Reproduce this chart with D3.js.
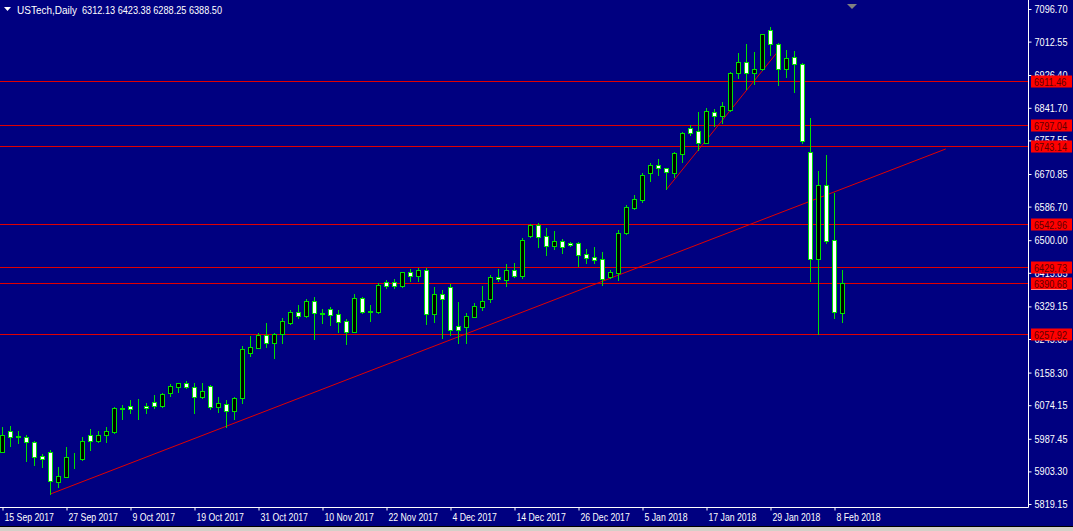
<!DOCTYPE html>
<html><head><meta charset="utf-8">
<script src="https://cdn.jsdelivr.net/npm/d3@7"></script>
<style>
html,body{margin:0;padding:0;background:#000080;overflow:hidden}
svg text{font-family:"Liberation Sans",Arial,sans-serif;}
</style></head>
<body><svg id="c" width="1073" height="531"></svg>
<script>
const dates = ["2017-09-15","2017-09-18","2017-09-19","2017-09-20","2017-09-21","2017-09-22","2017-09-25","2017-09-26","2017-09-27","2017-09-28","2017-09-29",
"2017-10-02","2017-10-03","2017-10-04","2017-10-05","2017-10-06","2017-10-09","2017-10-10","2017-10-11","2017-10-12","2017-10-13","2017-10-16","2017-10-17","2017-10-18","2017-10-19","2017-10-20","2017-10-23","2017-10-24","2017-10-25","2017-10-26","2017-10-27","2017-10-30","2017-10-31",
"2017-11-01","2017-11-02","2017-11-03","2017-11-06","2017-11-07","2017-11-08","2017-11-09","2017-11-10","2017-11-13","2017-11-14","2017-11-15","2017-11-16","2017-11-17","2017-11-20","2017-11-21","2017-11-22","2017-11-23","2017-11-24","2017-11-27","2017-11-28","2017-11-29","2017-11-30",
"2017-12-01","2017-12-04","2017-12-05","2017-12-06","2017-12-07","2017-12-08","2017-12-11","2017-12-12","2017-12-13","2017-12-14","2017-12-15","2017-12-18","2017-12-19","2017-12-20","2017-12-21","2017-12-22","2017-12-25","2017-12-26","2017-12-27","2017-12-28","2017-12-29",
"2018-01-01","2018-01-02","2018-01-03","2018-01-04","2018-01-05","2018-01-08","2018-01-09","2018-01-10","2018-01-11","2018-01-12","2018-01-15","2018-01-16","2018-01-17","2018-01-18","2018-01-19","2018-01-22","2018-01-23","2018-01-24","2018-01-25","2018-01-26","2018-01-29","2018-01-30","2018-01-31",
"2018-02-01","2018-02-02","2018-02-05","2018-02-06","2018-02-07","2018-02-08","2018-02-09"];

const open  = [5954.1,6007.6,5994.7,5992.9,5978.4,5942.3,5953.4,5876.7,5889.6,5939.2,5935.3,5996.5,5981.8,5996.5,6005.8,6066.2,6072.1,6068.2,6072.1,6081.6,6072.9,6106.4,6121.9,6130.7,6120.4,6094.5,6123.7,6070.3,6076.5,6060.0,6092.0,6209.6,6222.6,6255.3,6233.9,6257.9,6285.5,6314.7,6305.1,6343.1,6312.1,6321.7,6309.5,6290.7,6263.9,6350.1,6316.0,6315.5,6391.3,6391.3,6382.6,6417.2,6408.4,6423.1,6308.8,6360.4,6380.0,6278.6,6276.0,6302.6,6328.4,6347.5,6405.8,6397.3,6423.1,6407.6,6510.8,6539.2,6510.8,6485.0,6497.9,6493.6,6493.6,6464.4,6455.9,6450.7,6405.8,6414.6,6517.8,6583.9,6603.8,6674.2,6694.1,6685.6,6674.2,6721.7,6788.8,6782.6,6751.6,6830.1,6820.5,6836.0,6930.8,6959.1,6930.8,6941.1,7042.5,7005.6,6941.1,6972.0,6954.0,6726.9,6450.7,6642.5,6500.5,6312.13];
const high  = [6018.7,6020.5,6007.6,5996.0,5981.8,5948.2,5958.5,5913.9,5967.0,5951.6,5991.3,6012.0,6008.3,6018.7,6070.3,6074.7,6087.6,6089.4,6079.1,6100.5,6106.4,6128.9,6132.2,6136.6,6131.4,6130.7,6126.3,6094.5,6087.6,6094.5,6226.9,6252.8,6259.7,6287.1,6260.5,6298.4,6319.9,6332.8,6347.5,6352.6,6321.7,6326.8,6319.9,6296.6,6360.4,6354.2,6332.8,6388.8,6397.3,6399.9,6418.7,6425.7,6429.0,6429.0,6380.0,6371.5,6386.2,6341.3,6312.1,6338.7,6381.8,6410.2,6424.9,6438.6,6440.4,6504.9,6541.8,6545.2,6530.7,6524.5,6502.3,6495.3,6495.3,6476.5,6481.7,6470.3,6423.1,6526.3,6590.9,6616.7,6672.7,6698.5,6708.8,6686.4,6728.4,6780.0,6797.3,6830.9,6840.4,6837.8,6857.5,6934.9,6983.9,7006.4,6986.5,7032.2,7049.5,7008.2,6990.9,6988.3,6956.6,6814.6,6678.6,6719.9,6621.0,6423.38];
const low   = [5952.1,5969.6,5977.4,5930.9,5919.8,5913.9,5845.0,5863.8,5887.6,5912.8,5932.7,5958.5,5979.2,5979.2,6003.2,6037.8,6053.2,6038.5,6054.8,6067.7,6070.3,6098.7,6107.4,6117.8,6054.0,6092.0,6063.6,6057.4,6018.7,6037.8,6080.6,6201.1,6221.0,6225.1,6195.2,6235.4,6283.7,6298.4,6302.6,6245.8,6285.5,6281.1,6263.9,6232.1,6262.3,6311.3,6292.2,6312.9,6375.9,6375.9,6380.0,6394.7,6394.7,6283.7,6289.7,6246.8,6255.3,6233.9,6234.7,6301.0,6319.9,6341.3,6394.7,6381.8,6405.8,6401.7,6509.0,6481.7,6461.8,6476.5,6467.7,6485.9,6433.4,6440.4,6440.4,6384.4,6401.7,6397.3,6516.0,6580.5,6599.4,6653.6,6668.3,6631.4,6663.9,6702.6,6771.5,6732.8,6750.1,6794.7,6801.7,6834.2,6917.9,6889.5,6902.4,6939.3,6978.0,6900.6,6922.0,6883.3,6751.6,6394.7,6257.9,6492.0,6298.4,6288.25];
const close = [5997.2,5991.3,5992.1,5978.4,5941.2,5936.1,5878.5,5892.2,5940.5,5940.5,5981.8,5982.5,5997.2,6007.6,6066.2,6065.4,6064.3,6067.2,6066.9,6072.9,6103.1,6123.7,6130.7,6120.4,6096.1,6111.6,6070.3,6079.1,6060.0,6092.0,6218.4,6223.6,6255.3,6233.9,6257.9,6290.7,6314.7,6305.1,6343.1,6311.3,6310.8,6306.9,6289.7,6263.9,6350.1,6313.9,6314.9,6384.4,6382.6,6382.6,6417.2,6408.4,6423.1,6308.8,6360.4,6347.5,6268.2,6268.2,6303.6,6330.2,6343.9,6405.8,6399.1,6423.1,6407.6,6500.5,6539.2,6509.0,6485.0,6497.9,6483.2,6487.6,6461.8,6454.8,6448.9,6399.1,6417.9,6517.8,6584.9,6605.6,6668.3,6694.1,6685.6,6675.2,6724.3,6775.9,6777.4,6751.6,6834.2,6821.3,6846.4,6932.3,6959.1,6930.8,6941.1,7031.4,7005.6,6941.1,6969.5,6954.0,6756.8,6450.7,6642.5,6498.7,6313.9,6388.50];

const priceTicks = ["7096.70","7012.55","6926.40","6841.70","6757.55","6670.85","6586.70","6500.00","6415.85","6329.15","6245.00","6158.30","6074.15","5987.45","5903.30","5819.15"];
const dateTickIdx = [0,8,16,24,32,40,48,56,64,72,80,88,96,104];
const levels = [6911.46,6797.04,6743.14,6542.96,6429.73,6390.68,6257.92];
const trendA_idx = [6,117.9], trendA_px = [5845.0,6735.4];
const trendB_idx = [83,97], trendB_px = [6631.4,6989.0];
const symbol = "USTech,Daily";

const W=1073,H=531, plotR=1028, plotB=507;
const svg=d3.select("#c");
svg.append("rect").attr("width",W).attr("height",H).attr("fill","#000080");

const x=d3.scaleLinear().domain([0,1]).range([2,10]);
const y=d3.scaleLinear().domain([5819.15,7096.70]).range([504,9]);
const parse=d3.timeParse("%Y-%m-%d"), fmt=d3.timeFormat("%-d %b %Y");

function squeeze(sel,k){sel.each(function(){const w=this.getComputedTextLength();this.setAttribute("textLength",(w*k).toFixed(1));this.setAttribute("lengthAdjust","spacingAndGlyphs");});}

const plot=svg.append("g");
const RED="#e00000", GREEN="#00e000";
const last=open.length-1;

// bid line
plot.append("line").attr("x1",0).attr("x2",plotR).attr("y1",Math.round(y(close[last]))+0.5).attr("y2",Math.round(y(close[last]))+0.5)
  .attr("stroke","#c8b8c8").attr("stroke-width",1);

plot.selectAll("line.lvl").data(levels).join("line").attr("class","lvl")
  .attr("x1",0).attr("x2",plotR).attr("y1",d=>Math.round(y(d))+0.5).attr("y2",d=>Math.round(y(d))+0.5)
  .attr("stroke",RED).attr("stroke-width",1);

[[trendA_idx,trendA_px],[trendB_idx,trendB_px]].forEach(([ix,px])=>{
  plot.append("line").attr("x1",x(ix[0])+0.5).attr("y1",y(px[0])).attr("x2",x(ix[1])+0.5).attr("y2",y(px[1]))
    .attr("stroke",RED).attr("stroke-width",1);
});

const bars=open.map((o,i)=>({i,o,h:high[i],l:low[i],c:close[i]}));
const g=plot.selectAll("g.bar").data(bars).join("g").attr("class","bar");
g.append("line").attr("x1",d=>x(d.i)+0.5).attr("x2",d=>x(d.i)+0.5)
  .attr("y1",d=>Math.round(y(d.h))).attr("y2",d=>Math.round(y(d.l))+1).attr("stroke",GREEN);
g.append("rect").attr("x",d=>x(d.i)-1.5).attr("width",4)
  .attr("y",d=>Math.round(y(Math.max(d.o,d.c)))+0.5)
  .attr("height",d=>Math.max(0,Math.round(y(Math.min(d.o,d.c)))-Math.round(y(Math.max(d.o,d.c)))))
  .attr("fill",d=>d.c>=d.o?"#000000":"#ffffff").attr("stroke",GREEN).attr("stroke-width",1);

// title
svg.append("path").attr("d","M4,7 L11,7 L7.5,11 Z").attr("fill","#fff");
svg.append("text").attr("x",17).attr("y",14).attr("fill","#fff").attr("font-size",11)
  .text(symbol).attr("textLength",60).attr("lengthAdjust","spacingAndGlyphs");
svg.append("text").attr("x",82).attr("y",14).attr("fill","#fff").attr("font-size",11)
  .text(`${open[last].toFixed(2)} ${high[last].toFixed(2)} ${low[last].toFixed(2)} ${close[last].toFixed(2)}`)
  .attr("textLength",140).attr("lengthAdjust","spacingAndGlyphs");
svg.append("path").attr("d","M847,4 L857,4 L852,9 Z").attr("fill","#808080");

// right axis
const ya=svg.append("g").attr("transform",`translate(${plotR+0.5},0)`)
  .call(d3.axisRight(y).tickValues(priceTicks.map(Number)).tickSize(3).tickSizeOuter(0).tickFormat((d,i)=>priceTicks[i]));
ya.select(".domain").remove();
ya.selectAll("line").attr("stroke","#fff");
ya.selectAll("text").attr("fill","#fff").attr("font-size",11).attr("x",6).call(squeeze,0.83);
svg.append("line").attr("x1",plotR+0.5).attr("x2",plotR+0.5).attr("y1",0).attr("y2",plotB+0.5).attr("stroke","#fff");

// bid label (mostly hidden under the level label)
svg.append("rect").attr("x",1031).attr("y",Math.round(y(close[last]))-5).attr("width",36).attr("height",12).attr("fill","#ffffff");

// level labels
const lab=svg.selectAll("g.ll").data(levels).join("g").attr("class","ll")
  .attr("transform",d=>`translate(1031,${Math.round(y(d))})`);
lab.append("rect").attr("x",0).attr("y",-5.5).attr("width",41).attr("height",12).attr("fill","#ff0000");
lab.append("text").attr("x",3).attr("y",4.5).attr("font-size",11).attr("fill","#600000").text(d=>d.toFixed(2)).call(squeeze,0.83);

// bottom axis
const xa=svg.append("g").attr("transform",`translate(0,${plotB+0.5})`)
  .call(d3.axisBottom(x).tickValues(dateTickIdx).tickSize(3).tickSizeOuter(0).tickFormat(i=>fmt(parse(dates[i]))));
xa.select(".domain").attr("stroke","#fff").attr("d",`M0,0H${plotR+0.5}`);
xa.selectAll(".tick line").attr("stroke","#fff").attr("transform","translate(0.5,0)");
xa.selectAll(".tick text").attr("fill","#fff").attr("font-size",11).attr("text-anchor","start").attr("x",2).attr("y",6).attr("dy","0.71em").call(squeeze,0.79);

// bottom strip
svg.append("rect").attr("x",0).attr("y",526).attr("width",W).attr("height",5).attr("fill","#d4d0c8");
svg.append("line").attr("x1",0).attr("x2",W).attr("y1",526.5).attr("y2",526.5).attr("stroke","#000");
</script></body></html>
